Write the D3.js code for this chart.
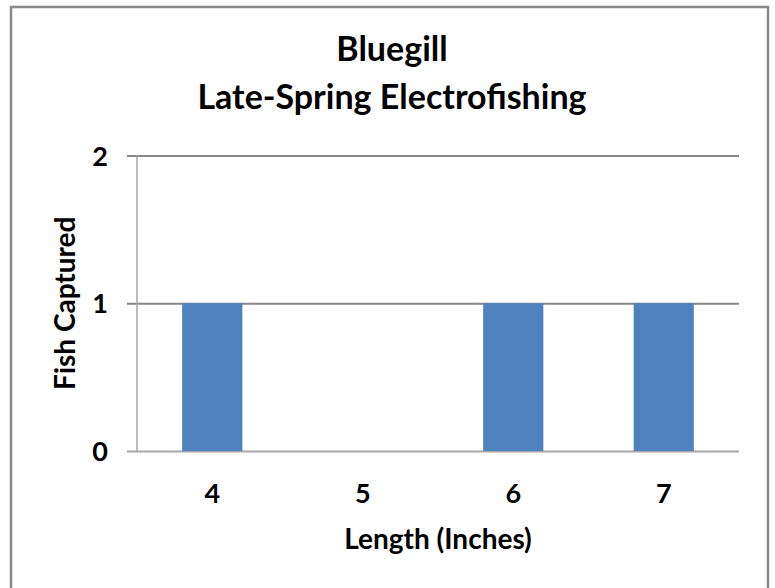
<!DOCTYPE html>
<html>
<head>
<meta charset="utf-8">
<script src="https://cdn.jsdelivr.net/npm/d3@7"></script>
<style>
  body { margin: 0; background: #fff; }
  svg { display: block; font-family: Lato, "Open Sans", sans-serif; font-weight: bold; }
</style>
</head>
<body>
<svg id="chart" width="775" height="588"></svg>
<script>
const categories = ["4", "5", "6", "7"];
const fishCaptured = [1, 0, 1, 1];
const yTicks = [0, 1, 2];
const titleLines = ["Bluegill", "Late-Spring Electrofishing"];

const WIDTH = 775;
const HEIGHT = 588;
const MARGINS = { left: 137, right: 36, top: 155.5, bottom: 137 };

const svg = d3.select("#chart");

// chart frame
svg
  .append("rect")
  .attr("x", 11)
  .attr("y", 7)
  .attr("width", 757)
  .attr("height", 620)
  .attr("fill", "#fff")
  .attr("stroke", "#898989")
  .attr("stroke-width", 2.5);

const xScale = d3
  .scaleBand()
  .domain(categories)
  .range([MARGINS.left, WIDTH - MARGINS.right])
  .paddingInner(0.6)
  .paddingOuter(0.3);

const yScale = d3
  .scaleLinear()
  .domain([0, 2])
  .range([HEIGHT - MARGINS.bottom, MARGINS.top]);

// gridlines + y ticks
const yAxis = d3
  .axisLeft(yScale)
  .tickValues(yTicks)
  .tickFormat(d3.format("d"))
  .tickSize(-(xScale.range()[1] - xScale.range()[0]))
  .tickPadding(29);

const yG = svg
  .append("g")
  .attr("transform", `translate(${MARGINS.left}, 0)`)
  .call(yAxis);

yG.select(".domain").remove();
yG.selectAll(".tick line")
  .attr("x1", -10)
  .attr("stroke", (d) => (d === 0 ? "#a6a6a6" : "#868686"))
  .attr("stroke-width", 2);
yG.selectAll(".tick text")
  .attr("font-size", 27)
  .attr("font-family", "Lato, sans-serif")
  .attr("font-weight", "bold")
  .attr("fill", "#000")
  .attr("dy", "0.36em");

// bars
svg
  .append("g")
  .selectAll("rect")
  .data(categories.map((c, i) => ({ c, v: fishCaptured[i] })))
  .join("rect")
  .attr("x", (d) => xScale(d.c))
  .attr("width", xScale.bandwidth())
  .attr("y", (d) => yScale(d.v))
  .attr("height", (d) => yScale(0) - yScale(d.v))
  .attr("fill", "#4f81bd");

// vertical axis line
svg
  .append("line")
  .attr("x1", MARGINS.left)
  .attr("x2", MARGINS.left)
  .attr("y1", yScale(2))
  .attr("y2", yScale(0))
  .attr("stroke", "#a6a6a6")
  .attr("stroke-width", 1.5);

// x axis labels
const xAxis = d3.axisBottom(xScale).tickSize(0).tickPadding(42);
const xG = svg
  .append("g")
  .attr("transform", `translate(0, ${yScale(0)})`)
  .call(xAxis);
xG.select(".domain").remove();
xG.selectAll(".tick text")
  .attr("font-size", 27)
  .attr("font-family", "Lato, sans-serif")
  .attr("font-weight", "bold")
  .attr("fill", "#000")
  .attr("dy", "0.36em");

// titles
const title = svg
  .append("text")
  .attr("x", 392)
  .attr("text-anchor", "middle")
  .attr("font-size", 34);
title
  .selectAll("tspan")
  .data(titleLines)
  .join("tspan")
  .attr("x", 392)
  .attr("y", (d, i) => 61 + i * 48)
  .text((d) => d);

svg
  .append("text")
  .attr("x", (xScale.range()[0] + xScale.range()[1]) / 2)
  .attr("y", 549)
  .attr("text-anchor", "middle")
  .attr("font-size", 28)
  .text("Length (Inches)");

svg
  .append("text")
  .attr("transform", `translate(75, ${(yScale(0) + yScale(2)) / 2}) rotate(-90)`)
  .attr("text-anchor", "middle")
  .attr("font-size", 28)
  .text("Fish Captured");
</script>
</body>
</html>
